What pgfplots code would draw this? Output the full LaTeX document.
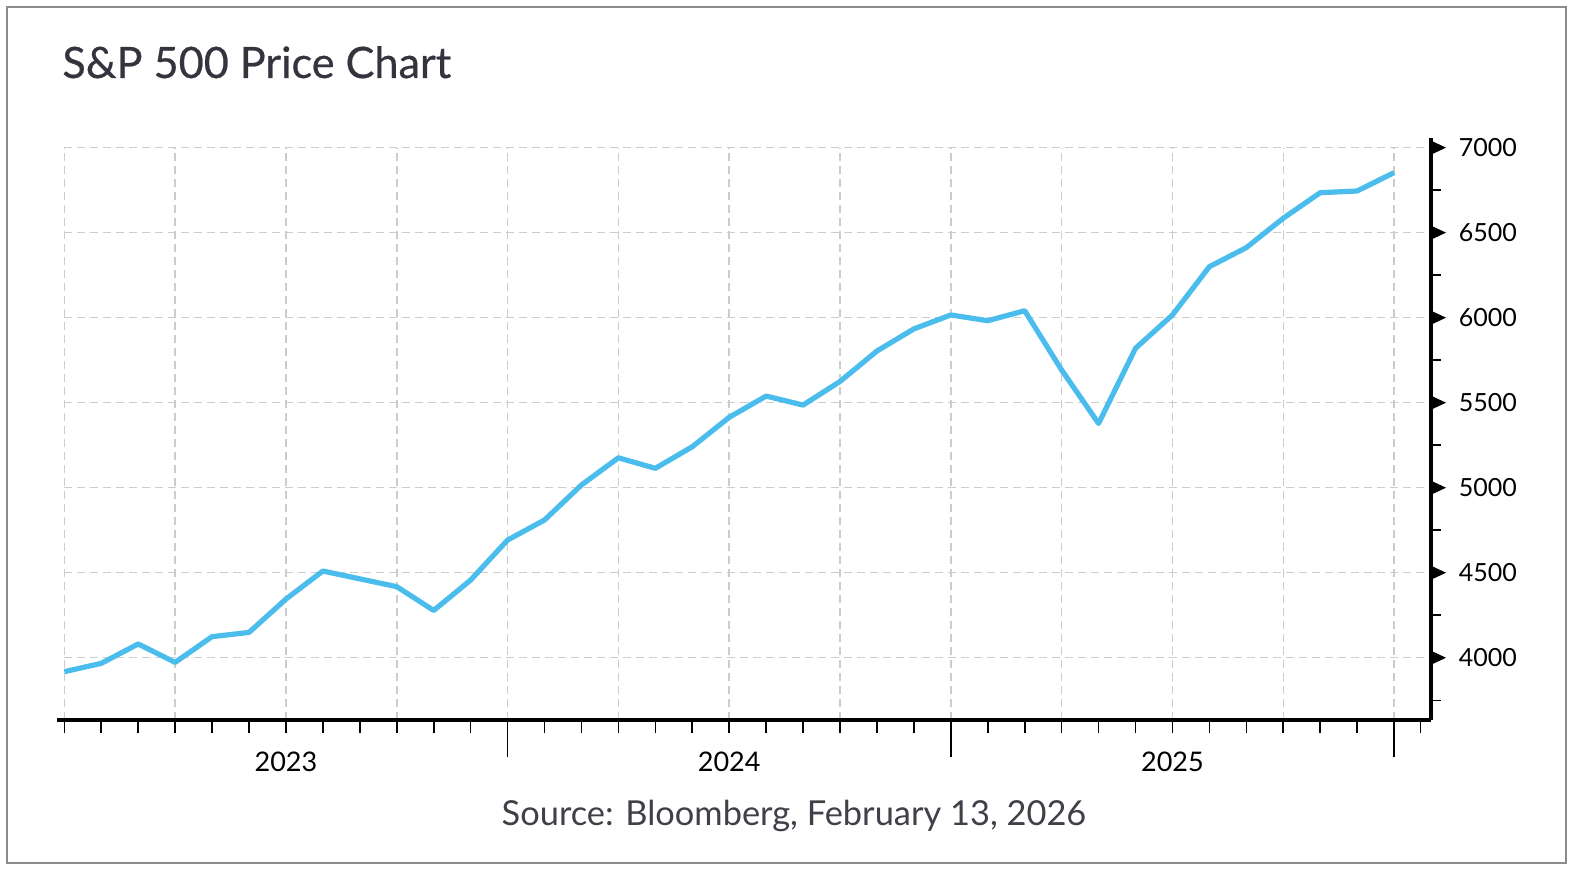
\documentclass[border=0pt]{standalone}
\usepackage{fontspec}
\setmainfont{Lato}
\newfontfamily\titlefont{Lato}[BoldFont=Lato, BoldFeatures={FakeBold=0.5}]
\usepackage{pgfplots}
\pgfplotsset{compat=1.18}
\definecolor{spx}{HTML}{4BBDEC}
\definecolor{gridgray}{HTML}{CCCCCC}
\definecolor{framegray}{HTML}{8C8C8C}
\definecolor{titlecol}{HTML}{33343E}
\definecolor{srccol}{HTML}{404048}

% monthly index (0 = first month) vs. S&P 500 level
\pgfplotstableread{
m   px
0   3918
1   3967
2   4081
3   3973
4   4124
5   4149
6   4345
7   4510
8   4464
9   4418
10  4278
11  4457
12  4692
13  4810
14  5016
15  5176
16  5114
17  5241
18  5414
19  5539
20  5486
21  5625
22  5804
23  5934
24  6016
25  5982
26  6041
27  5692
28  5378
29  5820
30  6016
31  6300
32  6412
33  6585
34  6735
35  6745
36  6853
}\spxdata

\begin{document}
\begin{tikzpicture}[x=1pt,y=1pt]
\useasboundingbox (0,0) rectangle (786,435);
\fill[white] (0,0) rectangle (786,435);
\draw[framegray, line width=1pt] (3.65,3.35) rectangle (782.85,431.65);
\node[anchor=base west, inner sep=0, text=titlecol, font=\titlefont\bfseries\fontsize{21.6}{24}\selectfont] at (31,396) {S\&P 500 Price Chart};
\node[anchor=base, inner sep=0, text=srccol, font=\fontsize{17.2}{20}\selectfont] at (397,22) {Source: Bloomberg, February 13, 2026};

\begin{axis}[
  at={(28.65pt,74.75pt)}, anchor=south west,
  width=686.85pt, height=291.1pt, scale only axis,
  xmin=-0.19, xmax=37, ymin=3631, ymax=7055,
  axis x line=bottom, axis y line=right,
  axis line style={line width=2pt, -},
  axis on top, clip=false,
  tick align=outside,
  xtick={12,24,36}, xticklabels={},
  minor xtick={0,1,...,36,36.72},
  major tick length=18.25pt, minor tick length=6.25pt,
  xtick style={black, line width=0.8pt},
  extra x ticks={6,18,30},
  extra x tick labels={2023,2024,2025},
  extra x tick style={major tick length=0pt,
    xticklabel style={anchor=north, inner sep=0pt, yshift=-15.75pt,
      font=\fontsize{13.5}{16}\selectfont}},
  ytick={4000,4500,...,7000},
  ytick style={draw=none},
  yticklabel style={anchor=west, inner sep=0pt, xshift=-4.5pt,
    font=\fontsize{12.5}{15}\selectfont},
  ticklabel style={text=black},
  /pgf/number format/assume math mode=true,
  /pgf/number format/1000 sep={},
]
% dashed grid, only over the data range
\pgfplotsinvokeforeach{0,3,...,36}{
  \draw[gridgray, line width=0.75pt, dash pattern=on 4pt off 2.5pt]
    (axis cs:#1,3631) -- (axis cs:#1,7000);
}
\pgfplotsinvokeforeach{4000,4500,...,7000}{
  \draw[gridgray, line width=0.75pt, dash pattern=on 4pt off 2.5pt]
    (axis cs:0,#1) -- (axis cs:37,#1);
}
% y axis: triangles at the major ticks, short lines at the minor ones
\pgfplotsinvokeforeach{4000,4500,...,7000}{
  \fill[black] (axis cs:37,#1) ++(0pt,3.5pt) -- ++(7.5pt,-3.5pt) -- ++(-7.5pt,-3.5pt) -- cycle;
}
\pgfplotsinvokeforeach{3750,4250,...,6750}{
  \draw[black, line width=0.75pt] (axis cs:37,#1) -- ++(5pt,0pt);
}
\addplot[spx, line width=2.6pt, line join=round] table[x=m, y=px] {\spxdata};
\end{axis}
\end{tikzpicture}
\end{document}
